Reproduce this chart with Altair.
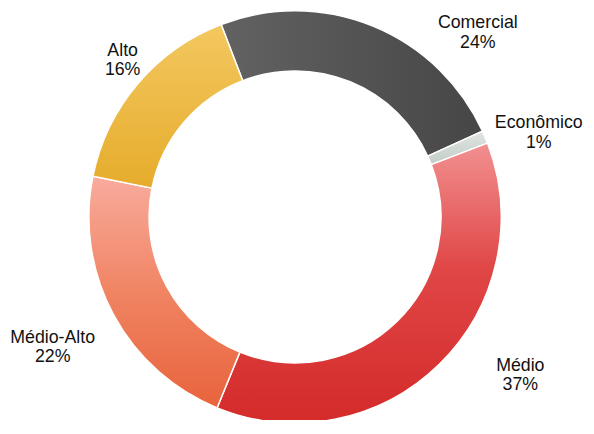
import math
import altair as alt
import pandas as pd

categories = ["Comercial", "Econômico", "Médio", "Médio-Alto", "Alto"]
shares = [24, 1, 37, 22, 16]
pct_labels = ["24%", "1%", "37%", "22%", "16%"]

df = pd.DataFrame({
    "idx": list(range(len(categories))),
    "cat": categories,
    "value": shares,
    "label": [f"{c}\n{p}" for c, p in zip(categories, pct_labels)],
})

start_angle = math.radians(-21)
theta_scale = alt.Scale(domain=[0, 100], range=[start_angle, start_angle + 2 * math.pi])

def grad(stops, x2=0, y2=1):
    return alt.Gradient(
        gradient="linear",
        stops=[alt.GradientStop(color=c, offset=o) for o, c in stops],
        x1=0, y1=0, x2=x2, y2=y2,
    )

fills = {
    "Comercial": grad([(0, "#626262"), (1, "#464646")], x2=1, y2=0),
    "Econômico": grad([(0, "#dfe6e2"), (1, "#c4ccc8")]),
    "Médio": grad([(0, "#f29090"), (0.45, "#e04646"), (1, "#d42a2a")]),
    "Médio-Alto": grad([(0, "#f9ab9c"), (0.5, "#f08463"), (1, "#e8633c")]),
    "Alto": grad([(0, "#f3c860"), (1, "#e6ac2c")]),
}

nudges = {
    "Comercial": (89, 40),
    "Econômico": (12, 4),
    "Médio": (50, -31),
    "Médio-Alto": (-21, 2),
    "Alto": (20, -4),
}

cx, cy = 291, 209

base = alt.Chart(df).transform_window(
    cum="sum(value)", sort=[alt.SortField("idx")], frame=[None, 0]
).transform_calculate(
    start="datum.cum - datum.value",
    mid="datum.cum - datum.value / 2",
)

layers = []
for c in categories:
    layers.append(
        base.transform_filter(alt.datum.cat == c)
        .mark_arc(innerRadius=148, outerRadius=209, fill=fills[c],
                  stroke="#ffffff", strokeWidth=1.5)
        .encode(
            theta=alt.Theta("start:Q", scale=theta_scale),
            theta2="cum:Q",
            x=alt.value(cx),
            y=alt.value(cy),
        )
    )

for c in categories:
    dx, dy = nudges[c]
    layers.append(
        base.transform_filter(alt.datum.cat == c)
        .mark_text(font="Liberation Sans", fontSize=18, lineHeight=19.5,
                   lineBreak="\n", align="center", baseline="middle",
                   color="#111111", dx=dx, dy=dy)
        .encode(
            theta=alt.Theta("mid:Q", scale=theta_scale),
            radius=alt.value(255),
            text="label:N",
            x=alt.value(cx),
            y=alt.value(cy),
        )
    )

chart = alt.layer(*layers).properties(
    width=586, height=412,
    padding=0,
    autosize=alt.AutoSizeParams(type="none"),
    background="#ffffff",
).configure_view(stroke=None)

chart.save("out.html", embed_options={"renderer": "svg", "actions": False})
